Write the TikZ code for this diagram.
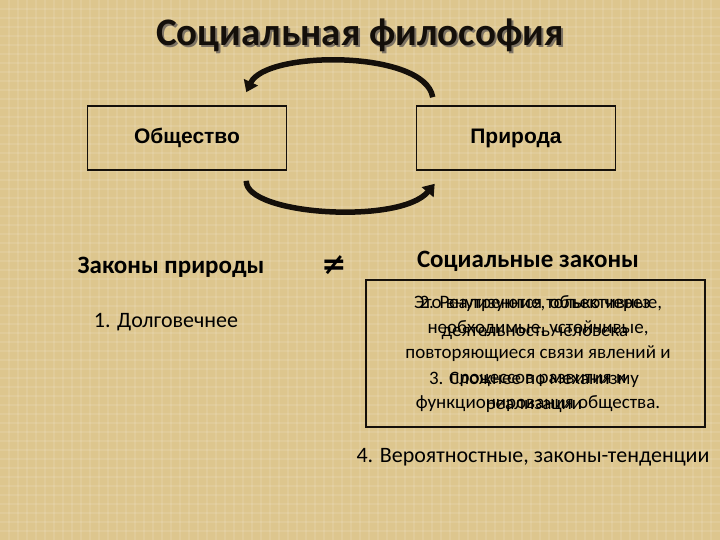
\documentclass[tikz,border=0pt]{standalone}
\usepackage{fontspec}
\setmainfont{Carlito}
\newfontfamily\arialfont{Liberation Sans}
\newfontfamily\symbfont{DejaVu Sans}
\usetikzlibrary{arrows.meta, positioning, calc}
\definecolor{parchment}{RGB}{221,198,142}
\definecolor{ink}{RGB}{20,15,10}
\definecolor{dimtext}{RGB}{125,115,100}

\begin{document}
\begin{tikzpicture}[x=1pt, y=-1pt,
  pole/.style={draw=ink, line width=1.6pt, minimum width=199pt, minimum height=64pt, text height=15pt, text depth=4pt, font=\arialfont\bfseries\fontsize{21}{24}\selectfont},
  loopline/.style={ink, line width=5.5pt, -{Triangle[length=11pt, width=15pt]}},
  head/.style={font=\bfseries\fontsize{25}{28}\selectfont},
  item/.style={font=\fontsize{19}{25}\selectfont, align=center, inner sep=0pt}]
  \useasboundingbox (0,0) rectangle (720,540);
  \fill[parchment] (-6,-6) rectangle (726,546);
  \foreach \i in {9,18,...,711} { \draw[white, opacity=0.10, line width=1.5pt] (\i,-6) -- (\i,546); }
  \foreach \j in {9,18,...,531} { \draw[white, opacity=0.10, line width=1.5pt] (-6,\j) -- (726,\j); }
  \node[text=dimtext, font=\bfseries\fontsize{39}{42}\selectfont] (titleshadow) at (362,37) {Социальная философия};
  \node[text=ink, font=\bfseries\fontsize{39}{42}\selectfont] (title) at (360,35) {Социальная философия};
  \node[pole] (soc) at (187,138) {Общество};
  \node[pole] (nat) at (516,138) {Природа};
  \draw[loopline] ([xshift=17pt, yshift=8pt]nat.north west) .. controls (425,50) and (266,50) .. ([xshift=-41pt, yshift=13pt]soc.north east);
  \draw[loopline] ([xshift=-41pt, yshift=-10pt]soc.south east) .. controls (245,215) and (400,225) .. ([xshift=19pt, yshift=-13pt]nat.south west);
  \node[head] (natlaw) at (171,267) {Законы природы};
  \node[head, font=\symbfont\bfseries\fontsize{30}{30}\selectfont] (neq) at (334,265) {≠};
  \node[head] (soclaw) at (528,261) {Социальные законы};
  \node[item, font=\fontsize{22}{25}\selectfont] (longer) at (166,322) {1. Долговечнее};
  \node[draw=ink, line width=2pt, minimum width=339pt, minimum height=147pt] (lawbox) at (535.5,353.5) {};
  \node[item] (defn) at (538,354) {Это внутренние, объективные,\\необходимые, устойчивые,\\повторяющиеся связи явлений и\\процессов развития и\\функционирования общества.};
  \node[item, font=\fontsize{19}{28}\selectfont] (real) at (535,318) {2. Реализуются только через\\деятельность человека};
  \node[item] (mech) at (534,392) {3. Сложнее по механизму\\реализации};
  \node[item, font=\fontsize{22}{26}\selectfont] (prob) at (533,457) {4. Вероятностные, законы-тенденции};
\end{tikzpicture}
\end{document}
